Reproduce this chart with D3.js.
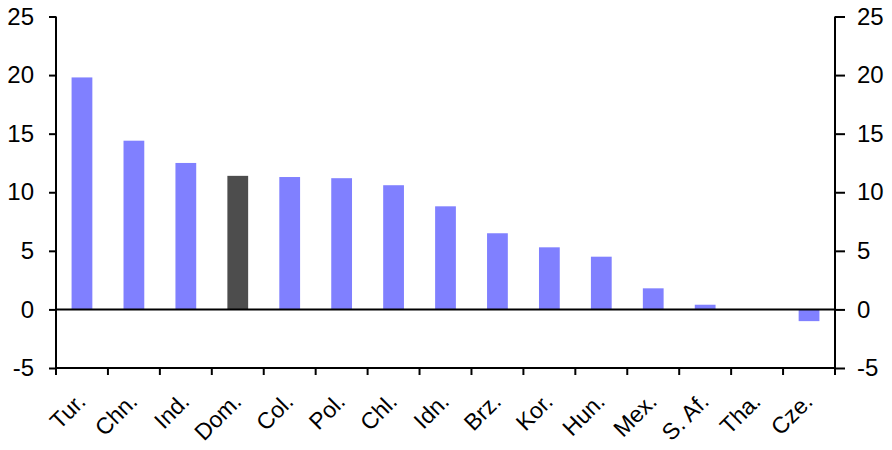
<!DOCTYPE html>
<html><head><meta charset="utf-8">
<script src="https://cdn.jsdelivr.net/npm/d3@7"></script>
<style>body{margin:0;background:#fff}svg{display:block}text{font-family:"Liberation Sans",Arial,sans-serif}</style>
</head><body><svg id="c" width="892" height="450"></svg>
<script>
const categories = ["Tur.","Chn.","Ind.","Dom.","Col.","Pol.","Chl.","Idn.","Brz.","Kor.","Hun.","Mex.","S. Af.","Tha.","Cze."];
const values = [19.8,14.4,12.5,11.4,11.3,11.2,10.6,8.8,6.5,5.3,4.5,1.8,0.4,0.0,-1.0];
const highlight = ["Dom."];
const yTicks = [-5,0,5,10,15,20,25];

const svg = d3.select("#c");
const L = 56, R = 835, T = 16.5, B = 368;
const x = d3.scaleBand().domain(categories).range([L, R]).paddingInner(0.6).paddingOuter(0.3);
const xb = d3.scaleBand().domain(categories).range([L, R]);
const y = d3.scaleLinear().domain([-5, 25]).range([B, T]);

svg.append("g").selectAll("rect").data(categories).join("rect")
  .attr("x", d => x(d))
  .attr("width", x.bandwidth())
  .attr("y", (d,i) => y(Math.max(0, values[i])))
  .attr("height", (d,i) => Math.abs(y(values[i]) - y(0)))
  .attr("fill", d => highlight.includes(d) ? "#4d4d4d" : "#8080ff");

// zero line
svg.append("line").attr("x1", L).attr("x2", R).attr("y1", y(0)).attr("y2", y(0))
  .attr("stroke", "#000").attr("stroke-width", 2);

const fmt = d => String(d);
const yl = svg.append("g").attr("transform", `translate(${L},0)`)
  .call(d3.axisLeft(y).tickValues(yTicks).tickSize(7).tickPadding(15).tickFormat(fmt));
const yr = svg.append("g").attr("transform", `translate(${R},0)`)
  .call(d3.axisRight(y).tickValues(yTicks).tickSize(10).tickPadding(12).tickFormat(fmt));
[yl, yr].forEach(g => {
  g.attr("font-size", 24).attr("font-family", "Liberation Sans, Arial, sans-serif");
  g.select(".domain").attr("stroke", "#000").attr("stroke-width", 2).attr("d", `M0,${B}V${T}`);
  g.selectAll(".tick line").attr("stroke", "#000").attr("stroke-width", 2);
  g.selectAll(".tick text").attr("fill", "#000");
});

// x axis
const bounds = categories.map(c => xb(c)).concat([R]);
svg.append("line").attr("x1", L).attr("x2", R).attr("y1", B).attr("y2", B).attr("stroke", "#000").attr("stroke-width", 2);
svg.append("g").selectAll("line").data(bounds).join("line")
  .attr("x1", d => d).attr("x2", d => d).attr("y1", B).attr("y2", B + 7)
  .attr("stroke", "#000").attr("stroke-width", 2);
svg.append("g").attr("font-size", 23).selectAll("text").data(categories).join("text")
  .attr("transform", d => `translate(${xb(d) + xb.bandwidth()/2 + 5},403) rotate(-45)`)
  .attr("text-anchor", "end")
  .attr("fill", "#000")
  .text(d => d);
</script></body></html>
